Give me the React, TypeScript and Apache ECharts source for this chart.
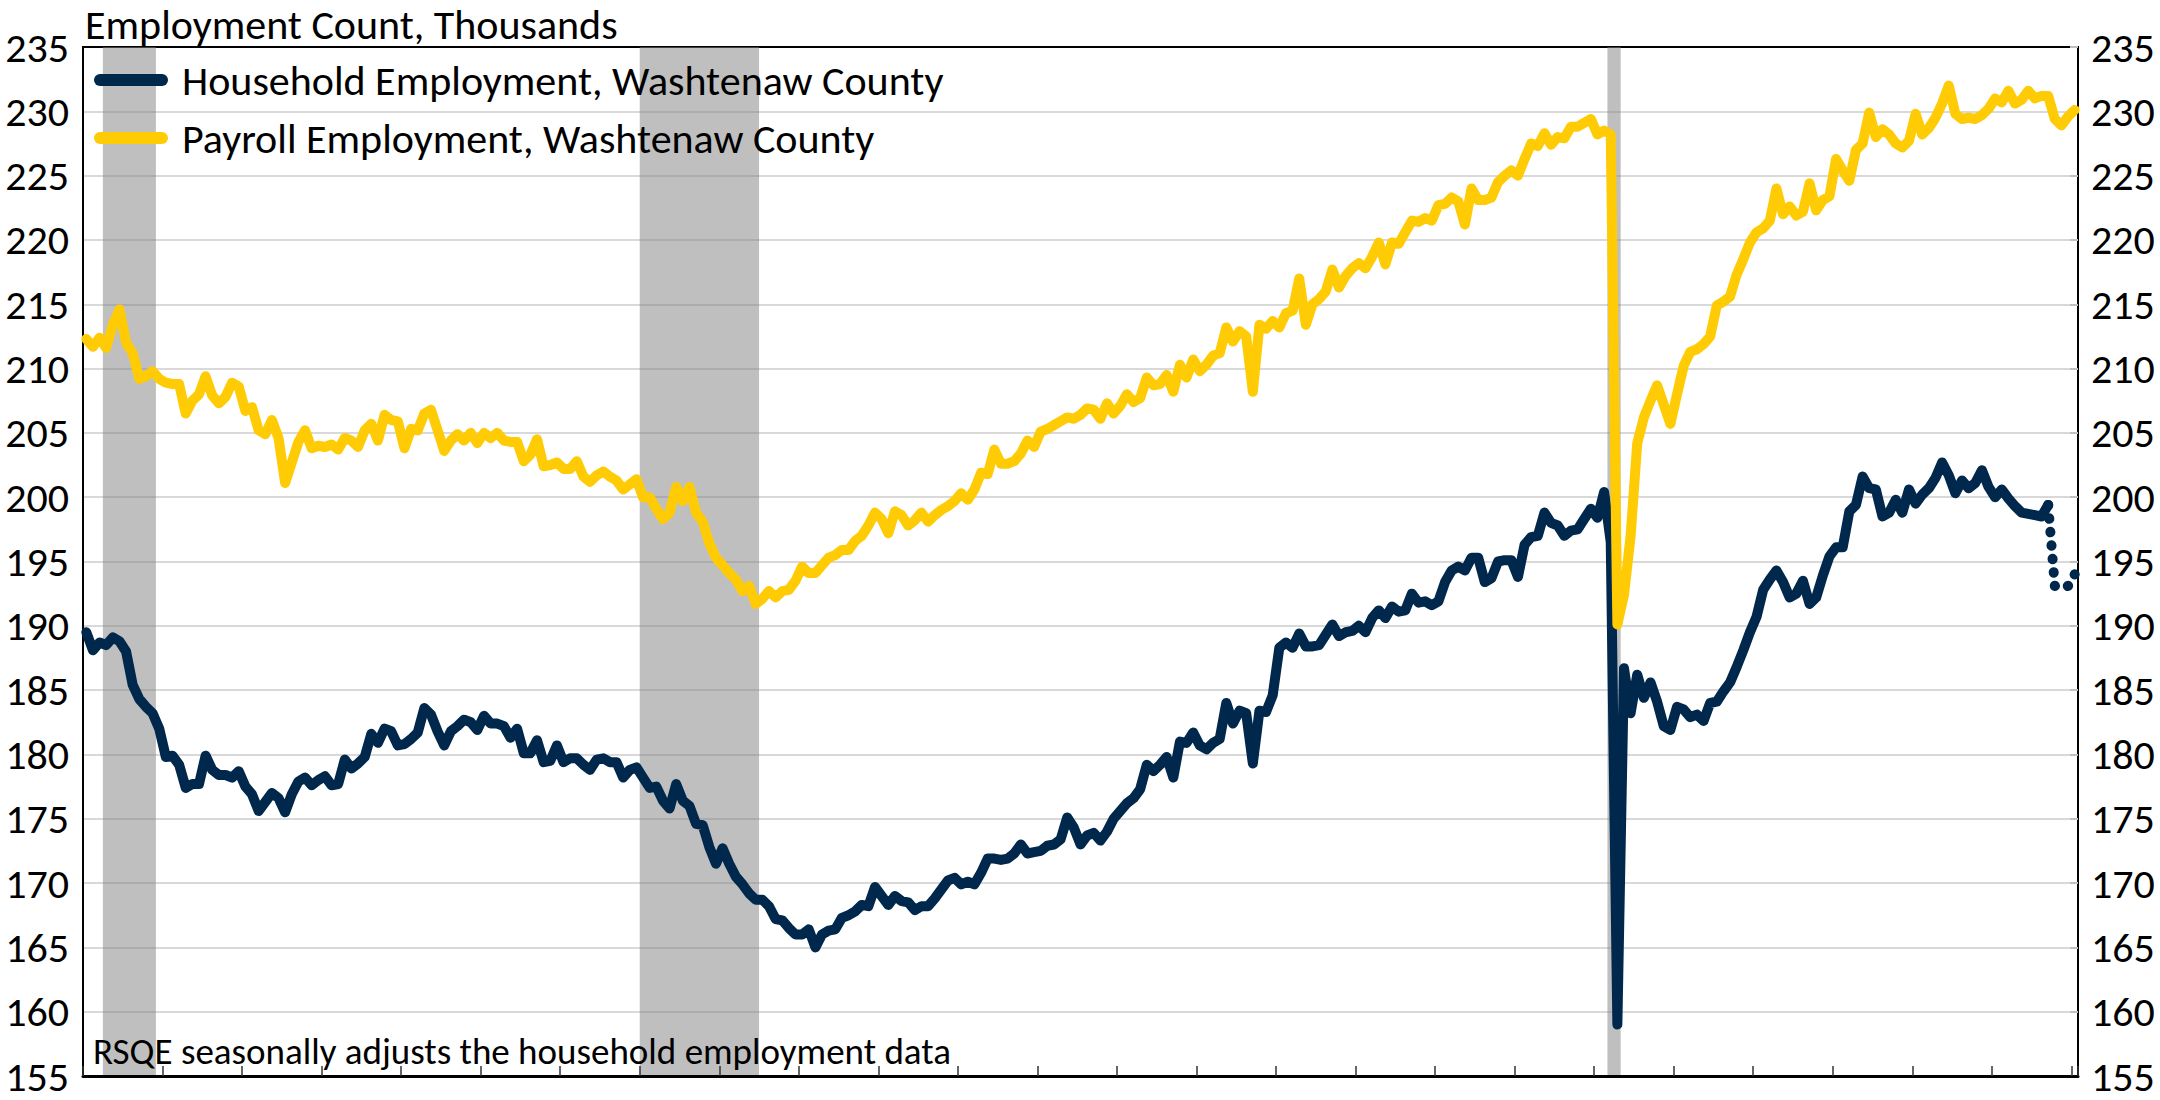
import React, { useEffect, useRef } from 'react';
import * as echarts from 'echarts';

const FONT = 'Carlito, Lato, "Liberation Sans", sans-serif';

// Monthly categories, Jan 2001 .. Jan 2026
const START_YEAR = 2001;
const MONTH_COUNT = 301;
const months: string[] = Array.from({ length: MONTH_COUNT }, (_, i) => {
  const y = START_YEAR + Math.floor(i / 12);
  const m = (i % 12) + 1;
  return `${y}-${String(m).padStart(2, '0')}`;
});

// NBER recession months (first, last)
const recessions: [string, string][] = [
  ['2001-04', '2001-11'],
  ['2008-01', '2009-06'],
  ['2020-03', '2020-04'],
];

// Household employment, Washtenaw County (thousands), one row per year
const household: number[] = [
  189.5, 188.1, 188.7, 188.5, 189.1, 188.8, 188.0, 185.4, 184.3, 183.7, 183.2, 182.0,
  179.8, 179.9, 179.2, 177.4, 177.7, 177.7, 179.9, 178.8, 178.4, 178.4, 178.2, 178.7,
  177.5, 176.9, 175.6, 176.3, 177.0, 176.6, 175.5, 176.9, 177.9, 178.2, 177.6, 178.0,
  178.3, 177.6, 177.7, 179.6, 178.9, 179.3, 179.8, 181.6, 180.9, 182.0, 181.8, 180.7,
  180.8, 181.2, 181.7, 183.6, 183.1, 181.8, 180.7, 181.8, 182.2, 182.7, 182.5, 181.9,
  183.0, 182.4, 182.4, 182.2, 181.3, 182.0, 180.1, 180.1, 181.1, 179.4, 179.5, 180.7,
  179.4, 179.7, 179.7, 179.2, 178.8, 179.6, 179.7, 179.4, 179.4, 178.2, 178.8, 179.0,
  178.2, 177.4, 177.5, 176.4, 175.8, 177.7, 176.4, 176.0, 174.6, 174.5, 172.8, 171.5,
  172.7, 171.5, 170.5, 169.9, 169.2, 168.7, 168.7, 168.2, 167.2, 167.1, 166.5, 166.0,
  166.0, 166.4, 165.0, 166.0, 166.3, 166.4, 167.3, 167.5, 167.8, 168.3, 168.2, 169.7,
  169.0, 168.3, 169.0, 168.6, 168.5, 167.9, 168.2, 168.2, 168.8, 169.5, 170.2, 170.4,
  169.9, 170.1, 169.9, 170.8, 171.9, 171.9, 171.8, 171.9, 172.3, 173.0, 172.3, 172.4,
  172.5, 172.9, 173.0, 173.4, 175.1, 174.3, 173.0, 173.7, 173.9, 173.3, 174.0, 175.0,
  175.6, 176.2, 176.6, 177.3, 179.2, 178.7, 179.2, 179.8, 178.2, 181.0, 180.9, 181.7,
  180.7, 180.4, 180.9, 181.2, 184.0, 182.4, 183.4, 183.2, 179.3, 183.4, 183.3, 184.6,
  188.3, 188.7, 188.3, 189.4, 188.4, 188.4, 188.5, 189.3, 190.1, 189.2, 189.5, 189.6,
  190.0, 189.5, 190.6, 191.2, 190.6, 191.5, 191.1, 191.2, 192.5, 191.8, 191.9, 191.6,
  191.9, 193.4, 194.3, 194.6, 194.3, 195.3, 195.3, 193.4, 193.7, 195.0, 195.1, 195.1,
  193.8, 196.3, 196.9, 197.0, 198.8, 198.0, 197.8, 197.0, 197.4, 197.5, 198.3, 199.1,
  198.4, 200.4, 196.5, 159.0, 186.7, 183.2, 186.2, 184.4, 185.6, 184.1, 182.2, 181.9,
  183.7, 183.5, 182.9, 183.1, 182.6, 184.0, 184.1, 184.9, 185.6, 186.8, 188.1, 189.5,
  190.7, 192.8, 193.6, 194.3, 193.4, 192.2, 192.5, 193.5, 191.7, 192.2, 193.9, 195.4,
  196.1, 196.1, 198.9, 199.4, 201.6, 200.7, 200.6, 198.5, 198.8, 199.8, 198.8, 200.6,
  199.5, 200.2, 200.7, 201.5, 202.7, 201.7, 200.3, 201.3, 200.7, 201.1, 202.1, 200.8,
  200.0, 200.6, 199.9, 199.3, 198.8, 198.7, 198.6, 198.5, 199.4, 193.1, 193.0, 193.1,
  194.0,
];
// Last month of published (solid) household data; later months drawn dotted
const householdEstimateStart = '2025-09';

// Payroll employment, Washtenaw County (thousands), one row per year
const payroll: number[] = [
  212.3, 211.7, 212.4, 211.6, 213.4, 214.6, 212.0, 211.2, 209.2, 209.4, 209.8, 209.2,
  208.9, 208.8, 208.8, 206.5, 207.5, 208.0, 209.4, 207.9, 207.3, 207.8, 208.9, 208.6,
  206.7, 207.0, 205.2, 204.9, 206.0, 204.6, 201.1, 202.7, 204.3, 205.2, 203.8, 204.0,
  203.9, 204.1, 203.7, 204.6, 204.4, 203.9, 205.2, 205.7, 204.4, 206.4, 206.0, 205.9,
  203.8, 205.3, 205.2, 206.5, 206.8, 205.2, 203.6, 204.4, 204.9, 204.4, 205.0, 204.2,
  205.0, 204.6, 205.0, 204.4, 204.3, 204.3, 202.8, 203.3, 204.5, 202.4, 202.5, 202.7,
  202.2, 202.2, 202.8, 201.6, 201.2, 201.7, 202.0, 201.6, 201.3, 200.6, 201.0, 201.4,
  200.0, 200.0, 199.1, 198.3, 198.8, 200.8, 199.7, 200.8, 198.8, 198.1, 196.4, 195.3,
  194.7, 194.1, 193.6, 192.7, 193.1, 191.7, 192.1, 192.7, 192.2, 192.7, 192.8, 193.5,
  194.6, 194.1, 194.1, 194.7, 195.3, 195.5, 195.9, 195.9, 196.6, 197.0, 197.8, 198.8,
  198.3, 197.2, 198.9, 198.6, 197.8, 198.2, 198.8, 198.1, 198.6, 199.0, 199.3, 199.7,
  200.3, 199.8, 200.6, 201.9, 201.8, 203.7, 202.6, 202.6, 202.8, 203.4, 204.4, 203.9,
  205.1, 205.3, 205.6, 205.9, 206.2, 206.1, 206.4, 206.9, 206.8, 206.1, 207.3, 206.5,
  207.1, 208.0, 207.4, 207.7, 209.3, 208.7, 208.8, 209.5, 208.2, 210.3, 209.3, 210.7,
  209.8, 210.3, 211.0, 211.2, 213.2, 212.1, 212.9, 212.5, 208.2, 213.4, 213.1, 213.7,
  213.2, 214.3, 214.5, 217.0, 213.4, 215.0, 215.4, 216.0, 217.7, 216.3, 217.2, 217.8,
  218.2, 217.8, 218.7, 219.8, 218.1, 219.8, 219.7, 220.6, 221.5, 221.4, 221.7, 221.5,
  222.7, 222.8, 223.3, 223.0, 221.2, 224.0, 223.1, 223.1, 223.3, 224.5, 225.0, 225.4,
  225.0, 226.3, 227.5, 227.3, 228.3, 227.4, 228.0, 227.9, 228.8, 228.8, 229.1, 229.4,
  228.2, 228.5, 228.2, 190.1, 192.4, 197.0, 204.2, 206.2, 207.5, 208.7, 207.2, 205.7,
  208.0, 210.2, 211.3, 211.5, 211.9, 212.5, 214.9, 215.2, 215.6, 217.3, 218.5, 219.8,
  220.6, 220.9, 221.5, 224.0, 222.0, 222.6, 221.9, 222.2, 224.4, 222.3, 223.1, 223.4,
  226.3, 225.4, 224.6, 227.0, 227.5, 229.9, 228.0, 228.6, 228.2, 227.5, 227.2, 227.7,
  229.8, 228.2, 228.7, 229.5, 230.6, 232.0, 229.8, 229.4, 229.5, 229.4, 229.7, 230.2,
  231.0, 230.7, 231.6, 230.6, 230.9, 231.6, 231.0, 231.2, 231.2, 229.4, 228.9, 229.6,
  230.1,
];

const Y_MIN = 155;
const Y_MAX = 235;
const Y_STEP = 5;

const HH_NAME = 'Household Employment, Washtenaw County';
const PR_NAME = 'Payroll Employment, Washtenaw County';
const TITLE = 'Employment Count, Thousands';
const NOTE = 'RSQE seasonally adjusts the household employment data';

const NAVY = '#00274C';
const MAIZE = '#FFCB05';
const RECESSION_FILL = 'rgba(128,128,128,0.5)';

const PILL = 'path://M6,0L68,0A6,6,0,0,1,68,12L6,12A6,6,0,0,1,6,0Z';

function buildOption() {
  const estIdx = months.indexOf(householdEstimateStart);
  const hhSolid = household.map((v, i) => (i <= estIdx ? v : null));
  const hhDotted = household.map((v, i) => (i >= estIdx ? v : null));
  const recessionSpans = recessions.map(([s, e]) => [months.indexOf(s), months.indexOf(e)]);

  const labelStyle = { fontSize: 42, lineHeight: 34, color: '#000', fontFamily: FONT };

  return {
    animation: false,
    backgroundColor: '#ffffff',
    textStyle: { fontFamily: FONT },
    title: {
      text: TITLE,
      left: 85,
      top: 3,
      padding: 0,
      textStyle: { fontSize: 42, fontWeight: 'normal', color: '#000', fontFamily: FONT },
    },
    legend: {
      data: [HH_NAME, PR_NAME],
      orient: 'vertical',
      left: 94,
      top: 59,
      padding: 0,
      itemWidth: 74,
      itemHeight: 12,
      itemGap: 16,
      icon: PILL,
      selectedMode: false,
      textStyle: { fontSize: 42, color: '#000', fontFamily: FONT, padding: [0, 0, 0, 9] },
    },
    grid: {
      left: 83,
      right: 82,
      top: 47,
      bottom: 24,
      show: true,
      borderColor: '#000',
      borderWidth: 2,
      backgroundColor: 'transparent',
    },
    xAxis: {
      type: 'category',
      data: months,
      boundaryGap: true,
      z: 5,
      axisLine: { show: true, lineStyle: { color: '#000', width: 3 } },
      axisTick: {
        show: true,
        inside: true,
        length: 10,
        interval: (i: number) => i % 12 === 0,
        lineStyle: { color: '#333', width: 1.5 },
      },
      axisLabel: { show: false },
      splitLine: { show: false },
    },
    yAxis: [
      {
        type: 'value',
        min: Y_MIN,
        max: Y_MAX,
        interval: Y_STEP,
        position: 'left',
        axisLine: { show: false },
        axisTick: { show: false },
        axisLabel: { ...labelStyle, margin: 14 },
        splitLine: { show: true, lineStyle: { color: 'rgba(0,0,0,0.15)', width: 2 } },
      },
      {
        type: 'value',
        min: Y_MIN,
        max: Y_MAX,
        interval: Y_STEP,
        position: 'right',
        axisLine: { show: false },
        axisTick: { show: true, inside: true, length: 8, lineStyle: { color: '#bfbfbf', width: 2 } },
        axisLabel: { ...labelStyle, margin: 13 },
        splitLine: { show: false },
      },
      { type: 'value', min: 0, max: 1, show: false },
    ],
    graphic: [
      {
        type: 'text',
        left: 93,
        top: 1033,
        style: { text: NOTE, fontSize: 37, fill: '#000', fontFamily: FONT },
        z: 10,
      },
    ],
    series: [
      {
        name: 'Recession',
        type: 'custom',
        yAxisIndex: 2,
        data: recessionSpans,
        encode: { x: [0, 1] },
        silent: true,
        z: 1,
        renderItem: (params: any, api: any) => {
          const s = api.coord([api.value(0), 0]);
          const e = api.coord([api.value(1), 0]);
          const band = api.size([1, 0])[0];
          const cs = params.coordSys;
          return {
            type: 'rect',
            shape: { x: s[0] - band / 2, y: cs.y, width: e[0] - s[0] + band, height: cs.height },
            style: { fill: RECESSION_FILL },
          };
        },
      },
      {
        name: HH_NAME,
        type: 'line',
        data: hhSolid,
        symbol: 'none',
        color: NAVY,
        itemStyle: { color: NAVY },
        lineStyle: { color: NAVY, width: 10, cap: 'round', join: 'round' },
        z: 3,
      },
      {
        name: 'Household (estimate)',
        type: 'line',
        data: hhDotted,
        symbol: 'none',
        color: NAVY,
        lineStyle: { color: NAVY, width: 10, type: [0.5, 13], cap: 'round', join: 'round' },
        z: 3,
      },
      {
        name: PR_NAME,
        type: 'line',
        data: payroll,
        symbol: 'none',
        color: MAIZE,
        itemStyle: { color: MAIZE },
        lineStyle: { color: MAIZE, width: 10, cap: 'round', join: 'round' },
        z: 4,
      },
    ],
  };
}

export default function App() {
  const ref = useRef<HTMLDivElement>(null);
  useEffect(() => {
    document.body.style.margin = '0';
    if (!ref.current) return;
    const chart = echarts.init(ref.current, null, { renderer: 'svg' });
    chart.setOption(buildOption() as any);
    return () => chart.dispose();
  }, []);
  return <div ref={ref} style={{ width: 2160, height: 1100 }} />;
}
